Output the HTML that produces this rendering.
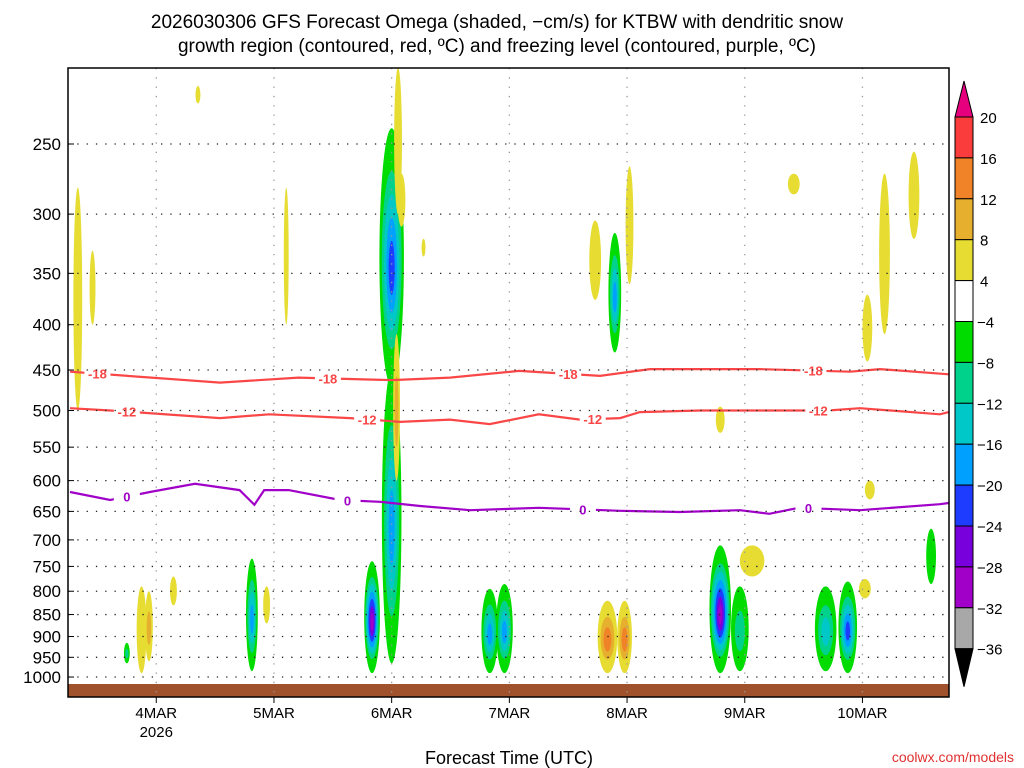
<!DOCTYPE html>
<html><head><meta charset="utf-8"><style>
body{margin:0;background:#fff;}
svg{display:block;font-family:"Liberation Sans","DejaVu Sans",sans-serif;}
</style></head><body>
<svg id="chart" width="1024" height="768" viewBox="0 0 1024 768" xmlns="http://www.w3.org/2000/svg">
<text x="497" y="28" font-size="19" text-anchor="middle">2026030306 GFS Forecast Omega (shaded, −cm/s) for KTBW with dendritic snow</text>
<text x="497" y="52" font-size="19" text-anchor="middle">growth region (contoured, red, ºC) and freezing level (contoured, purple, ºC)</text>
<text x="509" y="764" font-size="18" text-anchor="middle">Forecast Time (UTC)</text>
<text x="1014" y="762" font-size="14" text-anchor="end" fill="#e03030">coolwx.com/models</text>
<g id="plot"></g>
<g id="cbar"></g>
</svg>
<script>
const pressureTicks=[250,300,350,400,450,500,550,600,650,700,750,800,850,900,950,1000];
const dayLabels=["4MAR","5MAR","6MAR","7MAR","8MAR","9MAR","10MAR"];
const dayHours=[18,42,66,90,114,138,162];
// blobs: [hour, pTop, pBottom, widthHours, levels, sign(+1 upward/positive, -1 negative)]
const blobHours=[12,15,16.5,21.5,37.5,40.5,62,66,66,67.3,68,67,86,89,110,113.5,111.5,107.5,114.5,133,137,139.5,154.5,159,162.5,163.5,166.5,172.5,148,163,133,176,2,5,26.5,72.5,44.5];
const blobTop=[915,790,800,770,735,790,740,450,240,205,270,410,795,785,820,820,315,305,265,710,790,710,790,780,775,600,270,255,270,370,495,680,280,330,215,320,280];
const blobBot=[965,990,960,830,985,870,990,965,470,300,310,600,990,990,990,990,430,375,360,990,985,770,985,990,815,630,410,320,285,440,530,785,500,400,225,335,400];
const blobWidth=[1.2,2,1.6,1.4,2.4,1.4,3.2,4,5,1.6,1.6,1.4,3.4,3.4,4,3,2.6,2.4,1.6,4.4,3.6,5,4.4,3.8,2.4,2,2.2,2.2,2.4,2,1.8,2,1.8,1.2,1,0.8,1];
const blobLevels=[2,1,2,1,4,1,7,4,5,1,1,2,4,4,3,3,4,1,1,7,2,1,3,5,1,1,1,1,1,1,1,1,1,1,1,1,1];
const blobSign=[-1,1,1,1,-1,1,-1,-1,-1,1,1,1,-1,-1,1,1,-1,1,1,-1,-1,1,-1,-1,1,1,1,1,1,1,1,-1,1,1,1,1,1];
// contours (hour, pressure)
const cHours18=[0.4,31,47,66,77.9,92,108.5,118.7,141,159.5,165.6,179.6];
const cVals18=[452,465,459,462,459,451,457,449,449,452,449,455];
const cHours12=[0.4,8.6,31,41,57.5,67.7,77.9,86,96,104.4,112.6,116.6,128.9,141,155,161.5,177.8,179.6];
const cVals12=[497,500,510,505,510,515,512,518,505,512,510,502,500,500,500,497,505,502];
const cHours0=[0.4,8.6,16.7,25.9,35,38,40,45,55.5,63.6,71.8,82,96,112.6,124.8,137,143,149,161.5,177.8,179.6];
const cVals0=[618,631,618,605,615,639,615,615,631,634,641,648,644,649,651,648,654,644,648,638,636];
const labels18=[6,53,102,152], labels12=[12,61,107,153], labels0=[12,57,105,151];
const posColors=["#e6dc32","#e6af2d","#f08228","#fa3c3c"];
const negColors=["#00dc00","#00d28c","#00c8c8","#00a0ff","#1e3cff","#7800dc","#a000c8","#a8a8a8"];
const cbLabels=["20","16","12","8","4","−4","−8","−12","−16","−20","−24","−28","−32","−36"];

const X0=68,X1=949,Y0=68,Y1=697,PXH=4.904;
const xs=h=>X0+h*PXH;
const ys=p=>144+384.5*Math.log(p/250);
const NS="http://www.w3.org/2000/svg";
function mk(tag,at,parent){const e=document.createElementNS(NS,tag);for(const k in at)e.setAttribute(k,at[k]);parent.appendChild(e);return e;}
const plot=document.getElementById('plot');
const cp=mk('clipPath',{id:'clip'},plot);mk('rect',{x:X0,y:Y0,width:X1-X0,height:Y1-Y0},cp);
const inner=mk('g',{'clip-path':'url(#clip)'},plot);
// blobs
for(let i=0;i<blobHours.length;i++){
  const cx=xs(blobHours[i]),yt=ys(blobTop[i]),yb=ys(blobBot[i]);
  const cy=(yt+yb)/2,ry=(yb-yt)/2,rx=blobWidth[i]*PXH/2;
  const n=blobLevels[i];
  for(let k=0;k<n;k++){
    const f=1-k/(n+0.3);
    const e=mk('ellipse',{cx:cx,cy:cy+ry*0.1*(k/n),rx:rx*f,ry:ry*(k==0?1:f*0.85),fill:blobSign[i]>0?posColors[k]:negColors[k]},inner);
    
    
  }
}
// ground
const g=mk('rect',{x:X0,y:684,width:X1-X0,height:13,fill:'#a0522d'},inner);

// grid
pressureTicks.forEach(p=>{
  const l=mk('line',{x1:X0,x2:X1,y1:ys(p),y2:ys(p),stroke:'#222','stroke-width':1.3,'stroke-dasharray':'1.3 8'},plot);
  
  mk('line',{x1:X0,x2:X0+6,y1:ys(p),y2:ys(p),stroke:'#000'},plot);
  const t=mk('text',{x:61,y:ys(p)+6,'font-size':17,'text-anchor':'end'},plot);t.textContent=p;
  
});
dayHours.forEach((h,i)=>{
  const x=xs(h);
  const l=mk('line',{x1:x,x2:x,y1:Y0,y2:Y1,stroke:'#999','stroke-width':1.3,'stroke-dasharray':'1.3 8'},plot);
  
  mk('line',{x1:x,x2:x,y1:Y1,y2:Y1+6,stroke:'#000'},plot);
  const t=mk('text',{x:x,y:718,'font-size':15,'text-anchor':'middle'},plot);t.textContent=dayLabels[i];
  
});
const yr=mk('text',{x:xs(dayHours[0]),y:737,'font-size':15,'text-anchor':'middle'},plot);yr.textContent="2026";

// contours
function interp(hs,vs,h){for(let i=0;i<hs.length-1;i++){if(h>=hs[i]&&h<=hs[i+1]){return vs[i]+(vs[i+1]-vs[i])*(h-hs[i])/(hs[i+1]-hs[i]);}}return vs[vs.length-1];}
function contour(hs,vs,col,lbls,txt,name){
  const d=hs.map((h,i)=>(i?'L':'M')+xs(h).toFixed(1)+','+ys(vs[i]).toFixed(1)).join(' ');
  const p=mk('path',{d:d,fill:'none',stroke:col,'stroke-width':2.2},inner);
  
  lbls.forEach(h=>{
    const x=xs(h),y=ys(interp(hs,vs,h));
    mk('rect',{x:x-13,y:y-7,width:26,height:14,fill:'#fff'},inner);
    const t=mk('text',{x:x,y:y+5,'font-size':13,'font-weight':'bold','text-anchor':'middle',fill:col},inner);t.textContent=txt;
    
  });
}
contour(cHours18,cVals18,'#fa4646',labels18,'-18','contour-minus18');
contour(cHours12,cVals12,'#fa4646',labels12,'-12','contour-minus12');
contour(cHours0,cVals0,'#a000c8',labels0,'0','freezing-level-contour');
const fr=mk('rect',{x:X0,y:Y0,width:X1-X0,height:Y1-Y0,fill:'none',stroke:'#000','stroke-width':1.5},plot);

// colorbar
const cb=document.getElementById('cbar');
const cbCols=["#fa3c3c","#f08228","#e6af2d","#e6dc32","#ffffff"].concat(negColors);
const cx0=955,cw=18,ct=117,step=40.9;
const tri1=mk('polygon',{points:`${cx0},${ct} ${cx0+cw},${ct} ${cx0+cw/2},${ct-36}`,fill:'#e6007e',stroke:'#000'},cb);

cbCols.forEach((c,i)=>{
  const r=mk('rect',{x:cx0,y:ct+i*step,width:cw,height:step,fill:c,stroke:'#000'},cb);
  
});
const cbBot=ct+cbCols.length*step;
const tri2=mk('polygon',{points:`${cx0},${cbBot} ${cx0+cw},${cbBot} ${cx0+cw/2},${cbBot+38}`,fill:'#000',stroke:'#000'},cb);

cbLabels.forEach((s,i)=>{
  const t=mk('text',{x:s[0]=='−'?977:980,y:ct+i*step+6,'font-size':15},cb);t.textContent=s;
  
});
</script>
</body></html>
